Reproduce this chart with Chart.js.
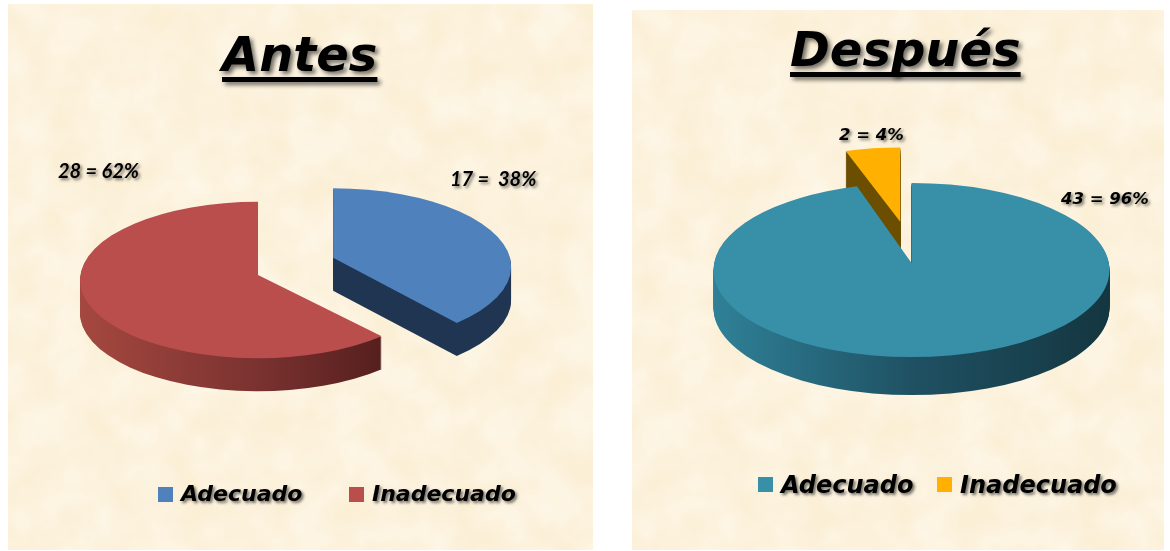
<!DOCTYPE html>
<html lang="es">
<head>
<meta charset="utf-8">
<title>Antes y Después</title>
<script src="https://cdn.jsdelivr.net/npm/chart.js@4"></script>
<style>
html, body { margin: 0; background: #fff; }
body { position: relative; width: 1170px; height: 551px; overflow: hidden; font-family: "DejaVu Sans", sans-serif; }
.panel {
    position: absolute;
    background-color: #fbefd6;
    background-image: url("data:image/svg+xml,%3Csvg xmlns='http://www.w3.org/2000/svg' width='600' height='560'%3E%3Cfilter id='n'%3E%3CfeTurbulence type='fractalNoise' baseFrequency='0.025' numOctaves='3' seed='7'/%3E%3CfeColorMatrix values='0 0 0 0 1 0 0 0 0 0.96 0 0 0 0 0.88 0 0 0 1.1 -0.3'/%3E%3C/filter%3E%3Crect width='600' height='560' filter='url(%23n)'/%3E%3C/svg%3E");
}
#panelAntes { left: 8px; top: 4px; width: 585px; height: 546px; }
#panelDespues { left: 632px; top: 10px; width: 532px; height: 540px; }
canvas { position: absolute; left: 0; top: 0; }
.title, .value, .legend-item { position: absolute; color: #000; font-weight: bold; font-style: italic; white-space: pre; line-height: 1; }
.title { font-size: 48px; text-decoration: underline; text-decoration-thickness: 5px; text-underline-offset: 6px; text-decoration-skip-ink: none; text-shadow: 3px 3px 4px rgba(0, 0, 0, .55); }
.value { text-shadow: 2px 2px 3px rgba(0, 0, 0, .5); }
.legend-item { font-size: 22px; text-shadow: 2px 2px 3px rgba(0, 0, 0, .55); }
.legend-item i { position: absolute; width: 15px; height: 15px; left: -23px; top: 4px; }
#panelAntes .value { font-family: Lato, sans-serif; font-size: 20px; }
#panelDespues .value { font-size: 16.5px; }
#panelDespues .legend-item { font-size: 24px; }
</style>
</head>
<body>
<div class="panel" id="panelAntes">
    <canvas id="chartAntes" width="585" height="546"></canvas>
    <div class="title" style="left:214px;top:26px">Antes</div>
    <div class="value" style="left:442px;top:164px" data-value="0"></div>
    <div class="value" style="left:50px;top:156px" data-value="1"></div>
    <div class="legend-item" style="left:173px;top:479px" data-legend="0"></div>
    <div class="legend-item" style="left:364px;top:479px" data-legend="1"></div>
</div>
<div class="panel" id="panelDespues">
    <canvas id="chartDespues" width="532" height="540"></canvas>
    <div class="title" style="left:158px;top:15px">Después</div>
    <div class="value" style="left:429px;top:181px" data-value="0"></div>
    <div class="value" style="left:207px;top:117px" data-value="1"></div>
    <div class="legend-item" style="left:149px;top:463px" data-legend="0"></div>
    <div class="legend-item" style="left:328px;top:463px" data-legend="1"></div>
</div>
<script>
const categories = ["Adecuado", "Inadecuado"];

const antesValues = [17, 28];
const antesLabels = ["17 =  38%", "28 = 62%"];
const antesColors = ["#4f81bd", "#b94e4c"];

const despuesValues = [43, 2];
const despuesLabels = ["43 = 96%", "2 = 4%"];
const despuesColors = ["#388fa8", "#ffb000"];

// flat pie drawn as a tilted disc, the wall is the sector repeated downwards
const pie3d = {
    id: "pie3d",
    beforeDatasetsDraw(chart, args, opts) {
        const ctx = chart.ctx;
        const arcs = chart.getDatasetMeta(0).data;
        const sector = (arc, i, dy) => {
            const mid = (arc.startAngle + arc.endAngle) / 2;
            ctx.setTransform(1, 0, 0, opts.squash, arc.x + Math.cos(mid) * opts.explode[i], arc.y + Math.sin(mid) * opts.explode[i] * opts.squash + dy);
            ctx.beginPath();
            ctx.moveTo(0, -opts.lift[i] / opts.squash);
            ctx.arc(0, 0, arc.outerRadius, arc.startAngle, arc.endAngle);
            ctx.closePath();
            ctx.fill();
        };

        ctx.save();
        opts.order.forEach((i) => {
            const arc = arcs[i];
            const stops = opts.walls[i];
            const wall = ctx.createLinearGradient(-arc.outerRadius, 0, arc.outerRadius, 0);
            stops.forEach((color, n) => wall.addColorStop(n / Math.max(stops.length - 1, 1), color));
            ctx.fillStyle = wall;
            for (let dy = opts.depth; dy > 0; dy--) {
                sector(arc, i, dy);
            }
            ctx.fillStyle = arc.options.backgroundColor;
            sector(arc, i, 0);
        });
        ctx.restore();
        return false;
    },
};

const createPie = (canvasId, values, colors, padding, radius, pieOptions) => {
    return new Chart(document.getElementById(canvasId), {
        type: "pie",
        data: {
            labels: categories,
            datasets: [{ data: values, backgroundColor: colors, borderWidth: 0, radius }],
        },
        options: {
            responsive: false,
            animation: false,
            layout: { padding },
            plugins: {
                legend: { display: false },
                tooltip: { enabled: false },
                pie3d: pieOptions,
            },
        },
        plugins: [pie3d],
    });
};

createPie("chartAntes", antesValues, antesColors, { right: 85, top: 6 }, 178, {
    squash: 0.44,
    depth: 33,
    explode: [81, 0],
    lift: [9, 5],
    order: [1, 0],
    walls: [["#1f3552"], ["#a5483f", "#7a3230", "#451716"]],
});

createPie("chartDespues", despuesValues, despuesColors, { left: 27, bottom: 20 }, 198, {
    squash: 0.44,
    depth: 38,
    explode: [0, 81],
    lift: [7, 13],
    order: [1, 0],
    walls: [["#2f8198", "#1f5163", "#143640"], ["#6b4e00"]],
});

const fillTexts = (panelId, labels, colors) => {
    const panel = document.getElementById(panelId);
    panel.querySelectorAll("[data-value]").forEach((el) => {
        el.textContent = labels[el.dataset.value];
    });
    panel.querySelectorAll("[data-legend]").forEach((el) => {
        const box = document.createElement("i");
        box.style.background = colors[el.dataset.legend];
        el.textContent = categories[el.dataset.legend];
        el.appendChild(box);
    });
};

fillTexts("panelAntes", antesLabels, antesColors);
fillTexts("panelDespues", despuesLabels, despuesColors);
</script>
</body>
</html>
